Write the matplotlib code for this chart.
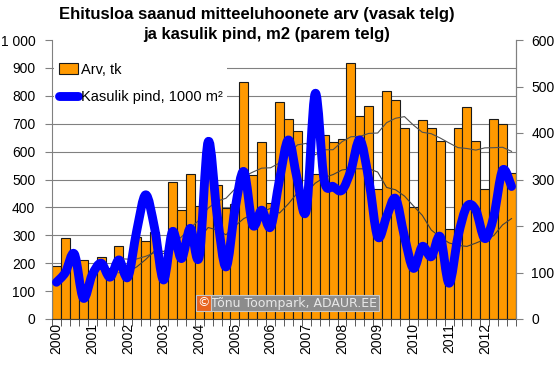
import numpy as np
import pandas as pd
import matplotlib
matplotlib.use("Agg")
import matplotlib.pyplot as plt
from matplotlib.path import Path
from matplotlib.patches import PathPatch, Patch
from matplotlib.lines import Line2D

plt.rcParams['font.family'] = ['Liberation Sans', 'DejaVu Sans']

years = [str(y) for y in range(2000, 2013)]
arv = [190, 290, 205, 210, 170, 222, 182, 263,
       175, 295, 281, 313, 145, 490, 390, 520,
       405, 636, 480, 397, 411, 848, 515, 634,
       415, 777, 718, 675, 454, 520, 659, 636,
       645, 919, 727, 762, 465, 817, 785, 683,
       403, 712, 686, 639, 323, 683, 760, 637,
       467, 717, 698, 522]
pind = [79, 100, 140, 45, 95, 120, 90, 127,
        90, 190, 267, 195, 84, 188, 130, 195,
        134, 381, 225, 112, 235, 317, 202, 234,
        198, 300, 385, 299, 234, 485, 299, 285,
        277, 320, 385, 300, 177, 220, 259, 177,
        109, 156, 134, 177, 77, 177, 242, 234,
        173, 220, 320, 285]
left_ticks = list(range(0, 1001, 100))
right_ticks = list(range(0, 601, 100))

W, H = 560, 365
fig = plt.figure(figsize=(W / 100, H / 100), dpi=100)
ax = fig.add_axes([52 / W, 1 - 319 / H, 464 / W, 279 / H])
x = np.arange(len(arv))

ax.bar(x, arv, width=1.0, color='#FF9900', edgecolor='#1a1a1a', linewidth=0.8, zorder=2)
ma_arv = pd.Series(arv).rolling(8).mean()
ax.plot(x, ma_arv, color='#505050', lw=0.8, zorder=3)

ax.set_xlim(-0.5, len(arv) - 0.5)
ax.set_ylim(0, 1000)
ax.set_yticks(left_ticks)
ax.set_yticklabels([f"{v:,}".replace(',', ' ') for v in left_ticks])
ax.yaxis.grid(True, color='#808080', lw=0.8)
ax.set_axisbelow(True)
ax.get_ygridlines()[-1].set_visible(False)
ax.tick_params(axis='y', direction='out', length=5, color='#808080', labelsize=10, pad=7)

ax.set_xticks(x[::4])
ax.set_xticklabels(years, rotation=90, fontsize=10)
ax.set_xticks(np.arange(-0.5, len(arv), 1), minor=True)
ax.tick_params(axis='x', which='major', length=0, pad=3)
ax.tick_params(axis='x', which='minor', length=5, direction='out', color='#404040')

ax.spines['top'].set_visible(False)
ax.spines['left'].set_color('#808080')
ax.spines['right'].set_color('#808080')
ax.spines['bottom'].set_color('#404040')

ax2 = ax.twinx()
ax2.set_ylim(0, 600)
ax2.set_yticks(right_ticks)
ax2.tick_params(axis='y', direction='out', length=5, color='#808080', labelsize=10, pad=6)
ax2.spines['top'].set_visible(False)
ax2.spines['right'].set_color('#808080')
ax2.spines['left'].set_visible(False)
ax2.spines['bottom'].set_visible(False)

ma_pind = pd.Series(pind).rolling(8).mean()
ax2.plot(x, ma_pind, color='#404040', lw=0.8, zorder=3)

# smoothed (Excel-like) line via cubic Bezier segments
p = np.column_stack([x, pind]).astype(float)
n = len(p)
verts = [p[0]]
codes = [Path.MOVETO]
for i in range(n - 1):
    p0 = p[i - 1] if i > 0 else p[i]
    p1 = p[i]
    p2 = p[i + 1]
    p3 = p[i + 2] if i + 2 < n else p[i + 1]
    c1 = p1 + (p2 - p0) / 6.0
    c2 = p2 - (p3 - p1) / 6.0
    verts += [c1, c2, p2]
    codes += [Path.CURVE4] * 3
path = Path(verts, codes)
ax2.add_patch(PathPatch(path, fill=False, edgecolor='#0000FF', lw=6.4,
                        capstyle='round', joinstyle='round', zorder=4))

handles = [Patch(facecolor='#FF9900', edgecolor='#1a1a1a', lw=0.8),
           Line2D([], [], color='#0000FF', lw=6.4, solid_capstyle='round')]
leg = ax2.legend(handles, ['Arv, tk', 'Kasulik pind, 1000 m²'], loc='upper left',
                 bbox_to_anchor=(0.005, 0.935), frameon=True, fancybox=False,
                 facecolor='white', edgecolor='none', framealpha=1,
                 fontsize=10.5, handlelength=1.35, handletextpad=0.2,
                 labelspacing=0.95, borderpad=0.3, borderaxespad=0.0)
leg.set_zorder(10)

fig.text(257 / W, 1 - 15 / H, 'Ehitusloa saanud mitteeluhoonete arv (vasak telg)',
         ha='center', va='center', fontsize=12, fontweight='bold')
fig.text(267 / W, 1 - 35 / H, 'ja kasulik pind, m2 (parem telg)',
         ha='center', va='center', fontsize=12, fontweight='bold')

fig.text(211 / W, 1 - 303 / H, 'Tõnu Toompark, ADAUR.EE', ha='left', va='center',
         fontsize=9, family='DejaVu Sans', color='#e8e8e8',
         bbox=dict(boxstyle='square,pad=0.15', facecolor='#8c8c8c', edgecolor='#c8c8c8', lw=0.8))
fig.text(197 / W, 1 - 303 / H, '©', ha='left', va='center',
         fontsize=9, family='DejaVu Sans', color='white',
         bbox=dict(boxstyle='square,pad=0.12', facecolor='#e8641e', edgecolor='#c8c8c8', lw=0.8))

fig.savefig('out.png', dpi=100)
